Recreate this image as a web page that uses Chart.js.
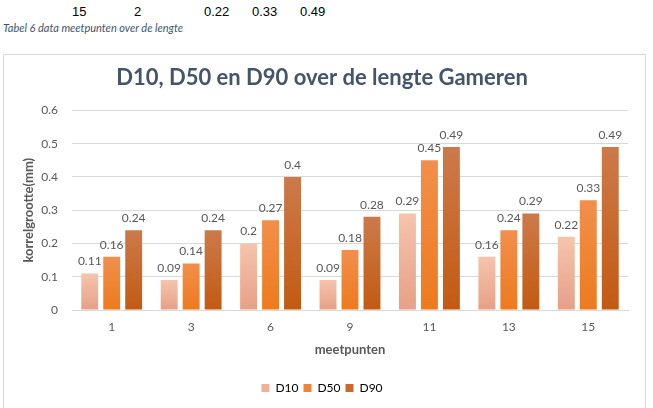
<!DOCTYPE html>
<html>
<head>
<meta charset="utf-8">
<script src="https://cdn.jsdelivr.net/npm/chart.js@4"></script>
<style>
  html,body{margin:0;padding:0;background:#fff;}
  #wrap{position:relative;width:653px;height:408px;overflow:hidden;}
  .row{position:absolute;top:4px;font-family:"Liberation Sans",Arial,sans-serif;font-size:13px;color:#000;}
  #cap{position:absolute;left:3px;top:21px;font-family:Lato,"Open Sans",sans-serif;font-style:italic;font-size:11px;color:#44546a;}
  #box{position:absolute;left:3px;top:54px;width:643px;height:370px;border:1px solid #d9d9d9;box-sizing:border-box;}
  #c{position:absolute;left:0;top:0;}
</style>
</head>
<body>
<div id="wrap">
  <div class="row" style="left:72px">15</div>
  <div class="row" style="left:134px">2</div>
  <div class="row" style="left:204px">0.22</div>
  <div class="row" style="left:252px">0.33</div>
  <div class="row" style="left:300px">0.49</div>
  <div id="cap">Tabel 6 data meetpunten over de lengte</div>
  <div id="box"></div>
  <canvas id="c" width="653" height="408"></canvas>
</div>
<script>
const categories = ["1", "3", "6", "9", "11", "13", "15"];
const d10 = [0.11, 0.09, 0.2, 0.09, 0.29, 0.16, 0.22];
const d50 = [0.16, 0.14, 0.27, 0.18, 0.45, 0.24, 0.33];
const d90 = [0.24, 0.24, 0.4, 0.28, 0.49, 0.29, 0.49];
const yTicks = [0, 0.1, 0.2, 0.3, 0.4, 0.5, 0.6];

const FONT = 'Lato, "Open Sans", sans-serif';
const grads = {
  D10: ['#f6c4ac', '#e6a087', '#eeb29a'],
  D50: ['#f28f4c', '#ed7a1e', '#ef8434'],
  D90: ['#cc7a4a', '#c35a12', '#c76a2c']
};

function gradFill(name) {
  return function(ctx) {
    const chart = ctx.chart;
    const g = grads[name];
    if (ctx.type !== 'data' || !chart.scales || !chart.scales.y || !chart.chartArea) return g[2];
    const y = chart.scales.y;
    const top = y.getPixelForValue(ctx.raw);
    const base = y.getPixelForValue(0);
    if (!isFinite(top) || !isFinite(base) || top === base) return g[2];
    const gr = chart.ctx.createLinearGradient(0, top, 0, base);
    gr.addColorStop(0, g[0]);
    gr.addColorStop(1, g[1]);
    return gr;
  };
}

const labelPlugin = {
  id: 'valLabels',
  afterDatasetsDraw(chart) {
    const c = chart.ctx;
    c.save();
    c.font = '12px ' + FONT;
    c.fillStyle = '#595959';
    c.textAlign = 'center';
    c.textBaseline = 'bottom';
    chart.data.datasets.forEach((ds, i) => {
      chart.getDatasetMeta(i).data.forEach((el, j) => {
        c.fillText(String(ds.data[j]), el.x, el.y - 6);
      });
    });
    c.restore();
  }
};

new Chart(document.getElementById('c'), {
  type: 'bar',
  data: {
    labels: categories,
    datasets: [
      { label: 'D10', data: d10, backgroundColor: gradFill('D10') },
      { label: 'D50', data: d50, backgroundColor: gradFill('D50') },
      { label: 'D90', data: d90, backgroundColor: gradFill('D90') }
    ]
  },
  options: {
    responsive: false,
    animation: false,
    devicePixelRatio: 1,
    categoryPercentage: 0.83,
    barPercentage: 0.77,
    layout: { padding: { top: 60, left: 16, right: 25, bottom: 4 } },
    plugins: {
      title: {
        display: true,
        text: 'D10, D50 en D90 over de lengte Gameren',
        color: '#44546a',
        font: { family: FONT, size: 22, weight: 'bold' },
        padding: { top: 5, bottom: 19 }
      },
      legend: {
        position: 'bottom',
        labels: {
          boxWidth: 8, boxHeight: 8,
          color: '#595959',
          font: { family: FONT, size: 12 },
          padding: 5,
          generateLabels(chart) {
            return chart.data.datasets.map((ds, i) => ({
              text: ds.label,
              fillStyle: grads[ds.label][2],
              strokeStyle: grads[ds.label][2],
              lineWidth: 0,
              datasetIndex: i,
              hidden: false
            }));
          }
        }
      },
      tooltip: { enabled: false }
    },
    scales: {
      x: {
        afterFit(axis) { axis.height = 67; },
        grid: { display: false, drawTicks: false },
        border: { display: true, color: '#d9d9d9' },
        ticks: { color: '#595959', font: { family: FONT, size: 12 }, padding: 10 },
        title: { display: true, text: 'meetpunten', color: '#595959', font: { family: FONT, size: 13, weight: 'bold' }, padding: { top: 0, bottom: 19 } }
      },
      y: {
        min: 0, max: 0.6,
        afterFit(axis) { axis.width = 56; },
        afterBuildTicks(axis) { axis.ticks = yTicks.map(v => ({ value: v })); },
        grid: { color: '#d9d9d9', drawTicks: false },
        border: { display: false },
        ticks: { color: '#595959', font: { family: FONT, size: 12 }, padding: 14, callback: v => String(v) },
        title: { display: true, text: 'korrelgrootte(mm)', color: '#595959', font: { family: FONT, size: 13, weight: 'bold' }, padding: { top: 5, bottom: 0 } }
      }
    }
  },
  plugins: [labelPlugin]
});
</script>
</body>
</html>
